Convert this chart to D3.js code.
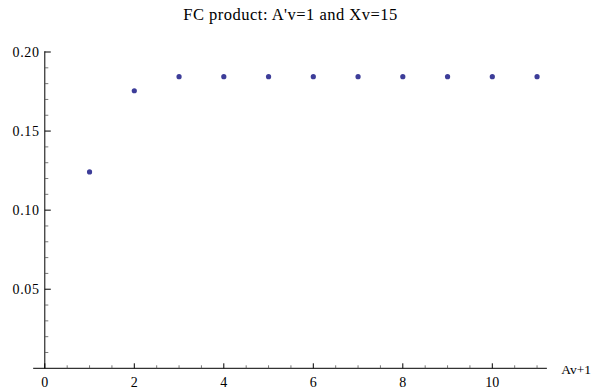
<!DOCTYPE html>
<html>
<head>
<meta charset="utf-8">
<script src="https://cdn.jsdelivr.net/npm/d3@7"></script>
<style>
  html, body { margin: 0; padding: 0; background: #fff; }
  svg { display: block; }
  text { font-family: "Liberation Serif", "Times New Roman", serif; fill: #000; }
</style>
</head>
<body>
<script>
const title = "FC product: A'v=1 and Xv=15";
const xLabel = "Av+1";
const xValues = [1, 2, 3, 4, 5, 6, 7, 8, 9, 10, 11];
const yValues = [0.1242, 0.1755, 0.1844, 0.1844, 0.1844, 0.1844, 0.1844, 0.1844, 0.1844, 0.1844, 0.1844];
const xMajorTicks = [0, 2, 4, 6, 8, 10];
const yMajorTicks = [0.05, 0.10, 0.15, 0.20];

const W = 593, H = 391;
const svg = d3.select("body").append("svg").attr("width", W).attr("height", H);

const x = d3.scaleLinear().domain([0, 10]).range([44.8, 492.3]);
const y = d3.scaleLinear().domain([0, 0.2]).range([368.3, 52]);
const xMin = -0.26, xMax = 11.22, yMax = 0.2005;

const fs = 14;

// title
svg.append("text").attr("x", 183.3).attr("y", 19.5)
  .attr("font-size", 16.5).attr("textLength", 214).attr("lengthAdjust", "spacing").text(title);

// x axis line
svg.append("line").attr("x1", x(xMin)).attr("x2", x(xMax)).attr("y1", y(0)).attr("y2", y(0))
  .attr("stroke", "#000").attr("stroke-width", 1);
// y axis line
svg.append("line").attr("x1", x(0)).attr("x2", x(0)).attr("y1", y(0)).attr("y2", y(yMax))
  .attr("stroke", "#000").attr("stroke-width", 1);

// x ticks
const xMinor = d3.range(0, 11.01, 0.5).filter(v => v <= xMax && !xMajorTicks.includes(v));
svg.append("g").selectAll("line").data(xMinor).join("line")
  .attr("x1", d => x(d)).attr("x2", d => x(d)).attr("y1", y(0)).attr("y2", y(0) - 3)
  .attr("stroke", "#555").attr("stroke-width", 0.8);
svg.append("g").selectAll("line").data(xMajorTicks).join("line")
  .attr("x1", d => x(d)).attr("x2", d => x(d)).attr("y1", y(0)).attr("y2", y(0) - 5)
  .attr("stroke", "#000").attr("stroke-width", 1);
svg.append("g").selectAll("text").data(xMajorTicks).join("text")
  .attr("x", d => x(d)).attr("y", 386.5).attr("text-anchor", "middle")
  .attr("font-size", fs)
  .text(d => d3.format("d")(d));

// y ticks
const yMinor = d3.range(1, 20).map(i => i / 100).filter(v => !yMajorTicks.some(m => Math.abs(m - v) < 1e-9));
svg.append("g").selectAll("line").data(yMinor).join("line")
  .attr("x1", x(0)).attr("x2", x(0) + 3.5).attr("y1", d => y(d)).attr("y2", d => y(d))
  .attr("stroke", "#555").attr("stroke-width", 0.8);
svg.append("g").selectAll("line").data(yMajorTicks).join("line")
  .attr("x1", x(0)).attr("x2", x(0) + 6).attr("y1", d => y(d)).attr("y2", d => y(d))
  .attr("stroke", "#000").attr("stroke-width", 1);
svg.append("g").selectAll("text").data(yMajorTicks).join("text")
  .attr("x", x(0) - 32.3).attr("y", d => y(d) + 4.7)
  .attr("font-size", fs).attr("textLength", 26.5).attr("lengthAdjust", "spacing")
  .text(d => d3.format(".2f")(d));

// x label
svg.append("text").attr("x", 561.2).attr("y", 373.8)
  .attr("font-size", 13.5).text(xLabel);

// points
svg.append("g").selectAll("circle").data(xValues).join("circle")
  .attr("cx", d => x(d)).attr("cy", (d, i) => y(yValues[i])).attr("r", 2.6)
  .attr("fill", "#3d3d99");
</script>
</body>
</html>
